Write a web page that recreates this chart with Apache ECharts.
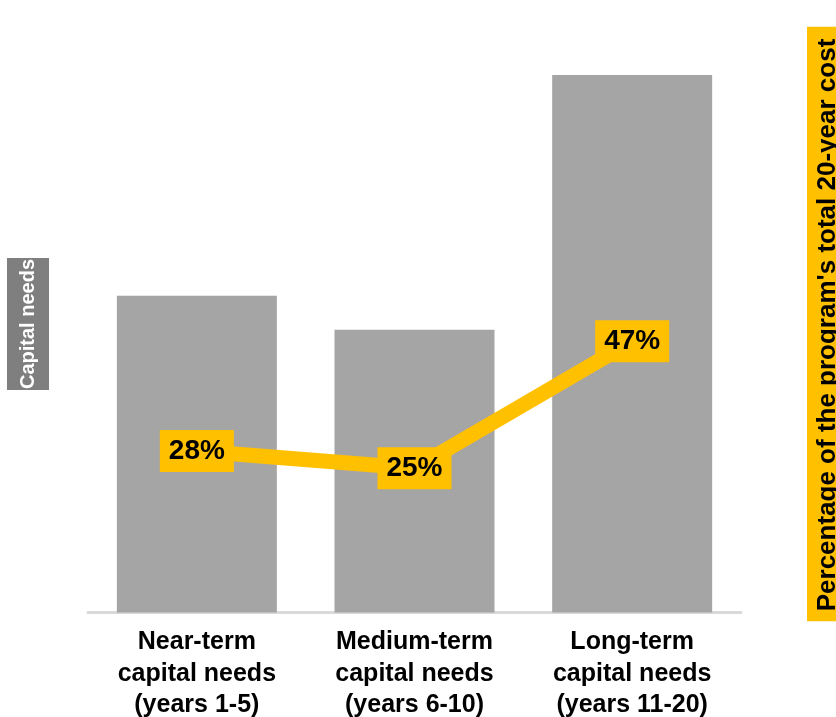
<!DOCTYPE html>
<html><head><meta charset="utf-8">
<script src="https://cdn.jsdelivr.net/npm/echarts@6/dist/echarts.min.js"></script>
<style>html,body{margin:0;padding:0;background:#fff}#c{width:836px;height:717px}</style>
</head><body><div id="c"></div>
<script>
const categories = ['Near-term\ncapital needs\n(years 1-5)', 'Medium-term\ncapital needs\n(years 6-10)', 'Long-term\ncapital needs\n(years 11-20)'];
const capitalNeeds = [28, 25, 47.5];
const sharePct = [28, 25, 47];
const leftAxisName = 'Capital needs';
const rightAxisName = "Percentage of the program's total 20-year cost";

const chart = echarts.init(document.getElementById('c'), null, {renderer: 'canvas'});
const font = '"Liberation Sans", Arial, sans-serif';
chart.setOption({
  animation: false,
  grid: {left: 88, right: 95, top: 35.5, bottom: 104.5, containLabel: false, outerBoundsMode: 'none'},
  xAxis: {
    type: 'category', data: categories,
    axisLine: {lineStyle: {color: '#d9d9d9', width: 3}},
    axisTick: {show: false},
    axisLabel: {fontFamily: font, fontWeight: 'bold', fontSize: 25, color: '#000', lineHeight: 31.5, margin: 14, interval: 0}
  },
  yAxis: [{
    type: 'value', min: 0, max: 51,
    axisLabel: {show: false}, splitLine: {show: false}, axisLine: {show: false}, axisTick: {show: false},
    name: leftAxisName, nameLocation: 'middle', nameRotate: 90, nameGap: 39,
    nameTextStyle: {fontFamily: font, fontWeight: 'bold', fontSize: 20, color: '#fff', backgroundColor: '#7f7f7f', padding: [11, 1, 11, 1]}
  }, {
    type: 'value', min: 0, max: 100, position: 'right',
    axisLabel: {show: false}, splitLine: {show: false}, axisLine: {show: false}, axisTick: {show: false},
    name: rightAxisName, nameLocation: 'middle', nameRotate: 90, nameGap: 66,
    nameTextStyle: {fontFamily: font, fontWeight: 'bold', fontSize: 26, color: '#000', backgroundColor: '#ffc000', padding: [8, 12, 10, 10]}
  }],
  series: [{
    type: 'bar', data: capitalNeeds, yAxisIndex: 0,
    barCategoryGap: '26.5%',
    itemStyle: {color: '#a5a5a5'}
  }, {
    type: 'line', data: sharePct, yAxisIndex: 1,
    symbol: 'rect', symbolSize: 1,
    lineStyle: {color: '#ffc000', width: 15},
    itemStyle: {color: '#ffc000'},
    label: {
      show: true, position: 'inside', formatter: '{c}%',
      fontFamily: font, fontWeight: 'bold', fontSize: 28, color: '#000',
      backgroundColor: '#ffc000', padding: [7, 9, 7, 9]
    }
  }]
});
</script></body></html>
